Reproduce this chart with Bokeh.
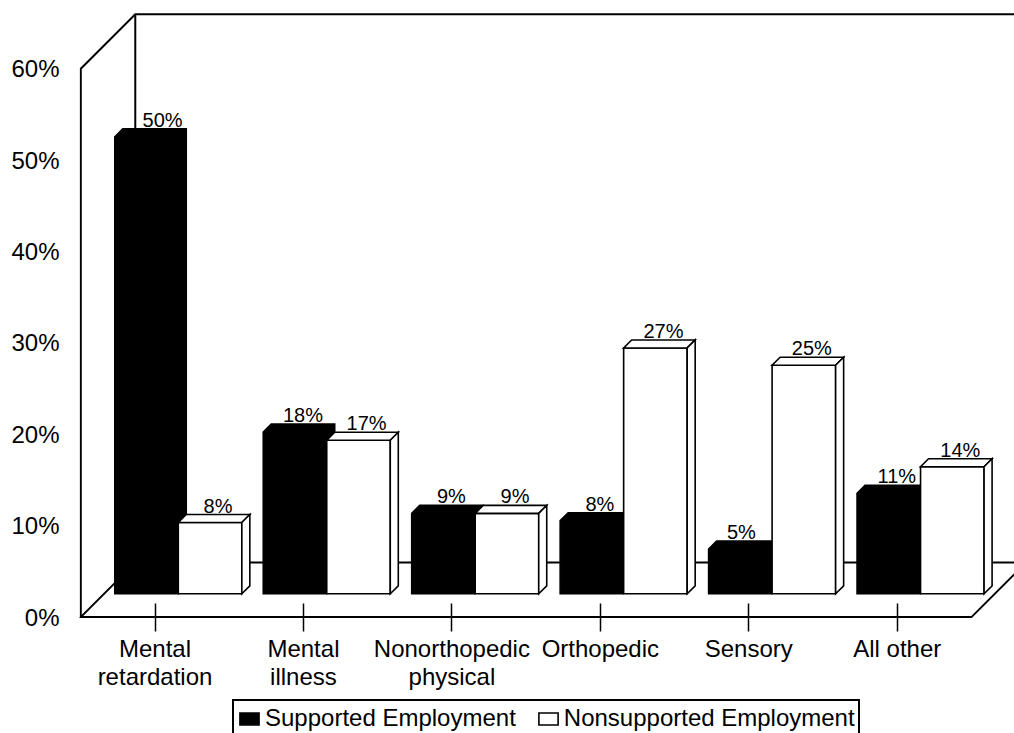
from bokeh.plotting import figure
from bokeh.models import (Range1d, FixedTicker, LinearAxis, Legend, LegendItem,
                          PrintfTickFormatter)
from bokeh.embed import file_html
from bokeh.resources import INLINE
from bokeh.core.properties import value

# ---------------- data ----------------
categories = ["Mental\nretardation", "Mental\nillness", "Nonorthopedic\nphysical",
              "Orthopedic", "Sensory", "All other"]
supported = [50.0, 17.7, 8.8, 8.0, 4.9, 11.0]
nonsupported = [7.8, 16.8, 8.8, 26.9, 25.0, 13.9]
y_ticks = [0, 10, 20, 30, 40, 50, 60]
series_names = ["Supported Employment", "Nonsupported Employment"]

# ---------------- geometry / style ----------------
W, H = 1014, 733
FL, FT = 79, 11                  # frame borders (px)
SX = 148.45                      # px per category
SY = 9.14                        # px per percent
ZERO_PX = 616.6                  # screen y of 0 %
frame_w = W - FL
frame_h = H - FT
xs = -75.5 / SX
xe = xs + frame_w / SX
ys = -(H - ZERO_PX) / SY
ye = ys + frame_h / SY

WALL_D = 54.5                    # depth of the box, px
BAR_FRONT = 23.3                 # bar front face depth, px
BAR_D = 8.0                      # bar depth, px
BAR_W = 0.428                    # bar width in category units
FONT = "Liberation Sans"

p = figure(width=W, height=H, x_range=Range1d(xs, xe), y_range=Range1d(ys, ye),
           output_backend="svg", toolbar_location=None,
           x_axis_type=None, y_axis_type=None,
           min_border_left=FL, min_border_right=0, min_border_top=FT,
           min_border_bottom=0, outline_line_color=None,
           background_fill_color="white", border_fill_color="white")
p.xgrid.visible = False
p.ygrid.visible = False

# axes
xaxis = LinearAxis(fixed_location=0,
                   ticker=FixedTicker(ticks=list(range(len(categories)))),
                   major_label_overrides={i: c for i, c in enumerate(categories)},
                   axis_line_color=None, major_tick_in=14, major_tick_out=14,
                   major_tick_line_width=1.5, major_tick_line_color="black",
                   minor_tick_line_color=None, major_label_standoff=4,
                   major_label_text_font=FONT, major_label_text_font_size="24px",
                   major_label_text_color="black", major_label_text_line_height=1.05)
p.add_layout(xaxis, "below")

yaxis = LinearAxis(ticker=FixedTicker(ticks=y_ticks),
                   formatter=PrintfTickFormatter(format="%d%%"),
                   axis_line_color=None, major_tick_line_color=None,
                   major_tick_in=0, major_tick_out=0, minor_tick_line_color=None,
                   major_label_standoff=20, major_label_text_font=FONT,
                   major_label_text_font_size="24px", major_label_text_color="black")
p.add_layout(yaxis, "left")

# ---------------- box (walls & floor) ----------------
n = len(categories)
xl, xr = -0.5, n - 0.5
Dx, Dy = WALL_D / SX, WALL_D / SY
top = y_ticks[-1]
wall_xs = [
    [xl, xl, xl + Dx, xr + Dx, xr + Dx],
    [xl + Dx, xl + Dx],
    [xl + Dx, xl, xr, xr + Dx, xl + Dx],
]
wall_ys = [
    [0, top, top + Dy, top + Dy, Dy],
    [Dy, top + Dy],
    [Dy, 0, 0, Dy, Dy],
]
p.multi_line(xs=wall_xs, ys=wall_ys, line_color="black", line_width=2,
             line_join="miter")

# ---------------- bars ----------------
ax, ay = BAR_FRONT / SX, BAR_FRONT / SY
bx, by = (BAR_FRONT + BAR_D) / SX, (BAR_FRONT + BAR_D) / SY

blk_xs, blk_ys = [], []
wht_xs, wht_ys = [], []
lab_x, lab_y, lab_t = [], [], []
label_nudge = {("s", 0): 8, ("s", 4): -7}   # px

for i in range(n):
    for key, vals, (x0, x1) in (("s", supported, (i - BAR_W, i)),
                                 ("n", nonsupported, (i, i + BAR_W))):
        v = vals[i]
        if key == "s":
            blk_xs.append([x0 + ax, x1 + ax, x1 + bx, x1 + bx, x0 + bx, x0 + ax])
            blk_ys.append([ay, ay, by, v + by, v + by, v + ay])
        else:
            wht_xs.append([x0 + ax, x1 + ax, x1 + ax, x0 + ax])
            wht_ys.append([ay, ay, v + ay, v + ay])
            wht_xs.append([x0 + ax, x1 + ax, x1 + bx, x0 + bx])
            wht_ys.append([v + ay, v + ay, v + by, v + by])
            wht_xs.append([x1 + ax, x1 + bx, x1 + bx, x1 + ax])
            wht_ys.append([ay, by, v + by, v + ay])
        nudge = label_nudge.get((key, i), 0)
        lab_x.append((x0 + x1) / 2 + bx + nudge / SX)
        lab_y.append(v + by + 9 / SY)
        lab_t.append(f"{round(v):d}%")

r_black = p.patches(xs=blk_xs, ys=blk_ys, fill_color="black", line_color="black",
                    line_width=1.5, line_join="miter")
r_white = p.patches(xs=wht_xs, ys=wht_ys, fill_color="white", line_color="black",
                    line_width=1.6, line_join="miter")

p.text(x=lab_x, y=lab_y, text=lab_t, text_align="center",
       text_baseline="alphabetic", text_font=value(FONT),
       text_font_size="20px", text_color="black")

# ---------------- legend ----------------
legend = Legend(items=[LegendItem(label=series_names[0], renderers=[r_black]),
                       LegendItem(label=series_names[1], renderers=[r_white])],
                orientation="horizontal", location=(153, -4),
                glyph_width=24, glyph_height=15, label_standoff=4, spacing=20,
                padding=3, margin=0, border_line_color="black",
                border_line_alpha=1.0, border_line_width=2,
                label_text_font=FONT,
                label_text_font_size="24px", label_text_color="black",
                background_fill_color="white", background_fill_alpha=1.0)
p.add_layout(legend, "center")

open("out.html", "w").write(file_html(p, INLINE))
